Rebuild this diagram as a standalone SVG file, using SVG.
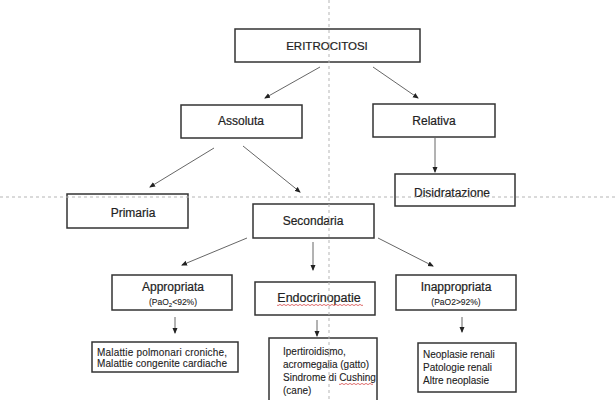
<svg xmlns="http://www.w3.org/2000/svg" width="616" height="400" viewBox="0 0 616 400">
<style>
.box{fill:#fff;stroke:#333;stroke-width:1.5}
.t{font-family:"Liberation Sans",Arial,sans-serif;fill:#222;stroke:#222;stroke-width:0.2;text-anchor:middle}
.lbl{font-size:12px}
.sub{font-size:8.5px;stroke-width:0.1}
.sm{font-family:"Liberation Sans",Arial,sans-serif;fill:#222;stroke:#222;stroke-width:0.1;font-size:10px}
.c{stroke:#555;stroke-width:0.9;fill:none;marker-end:url(#ah)}
.guide{stroke:#b5b5b5;stroke-width:1;stroke-dasharray:3 3;fill:none}
.sq{stroke:#d03030;stroke-width:0.7;fill:none}
</style>
<defs>
<marker id="ah" viewBox="0 0 6 6" refX="5" refY="3" markerWidth="6" markerHeight="6" markerUnits="userSpaceOnUse" orient="auto">
<path d="M0,0.5 L6,3 L0,5.5 Z" fill="#222"/>
</marker>
</defs>
<rect width="616" height="400" fill="#fff"/>
<g id="connectors">
<line class="c" x1="320" y1="67" x2="265" y2="98"/>
<line class="c" x1="373" y1="67" x2="418" y2="98"/>
<line class="c" x1="435" y1="138" x2="435" y2="172"/>
<line class="c" x1="214" y1="148" x2="150" y2="187"/>
<line class="c" x1="243" y1="146" x2="300" y2="192"/>
<line class="c" x1="247" y1="238" x2="182" y2="265"/>
<line class="c" x1="313" y1="242" x2="313" y2="270"/>
<line class="c" x1="378" y1="238" x2="433" y2="266"/>
<line class="c" x1="175" y1="317" x2="175" y2="333"/>
<line class="c" x1="317" y1="320" x2="317" y2="336"/>
<line class="c" x1="462" y1="317" x2="462" y2="332"/>
</g>
<g id="eritrocitosi">
<rect class="box" x="235" y="29" width="185" height="33"/>
<text class="t" font-size="11.5" x="327" y="50">ERITROCITOSI</text>
</g>
<g id="assoluta">
<rect class="box" x="181" y="105" width="121" height="33"/>
<text class="t lbl" x="241" y="125">Assoluta</text>
</g>
<g id="relativa">
<rect class="box" x="373" y="104" width="122" height="33"/>
<text class="t lbl" x="434" y="125">Relativa</text>
</g>
<g id="disidratazione">
<rect class="box" x="395" y="174" width="120" height="32"/>
<text class="t lbl" x="452" y="197">Disidratazione</text>
</g>
<g id="primaria">
<rect class="box" x="67" y="194" width="121" height="34"/>
<text class="t lbl" x="133" y="217">Primaria</text>
</g>
<g id="secondaria">
<rect class="box" x="253" y="204" width="121" height="34"/>
<text class="t lbl" x="313" y="225">Secondaria</text>
</g>
<g id="appropriata">
<rect class="box" x="112" y="275" width="120" height="35"/>
<text class="t lbl" x="173" y="291">Appropriata</text>
<text class="t sub" x="173" y="305">(PaO<tspan font-size="6" dy="2">2</tspan><tspan dy="-2">&lt;92%)</tspan></text>
</g>
<g id="endocrinopatie">
<rect class="box" x="255" y="282" width="120" height="33"/>
<text class="t" font-size="12.5" x="319" y="302">Endocrinopatie</text>
<path class="sq" d="M277,305 q1,1.2 2,0 t2,0 t2,0 t2,0 t2,0 t2,0 t2,0 t2,0 t2,0 t2,0 t2,0 t2,0 t2,0 t2,0 t2,0 t2,0 t2,0 t2,0 t2,0 t2,0 t2,0 t2,0 t2,0 t2,0 t2,0 t2,0 t2,0 t2,0 t2,0 t2,0 t2,0 t2,0 t2,0 t2,0 t2,0 t2,0 t2,0 t2,0 t2,0 t2,0 t2,0 t2,0 t2,0"/>
</g>
<g id="inappropriata">
<rect class="box" x="396" y="275" width="120" height="35"/>
<text class="t lbl" x="456" y="291">Inappropriata</text>
<text class="t sub" x="456" y="305">(PaO2&gt;92%)</text>
</g>
<g id="malattie">
<rect class="box" x="92" y="342" width="146" height="30"/>
<text class="sm" x="97" y="356" textLength="130">Malattie polmonari croniche,</text>
<text class="sm" x="97" y="367" textLength="130">Malattie congenite cardiache</text>
</g>
<g id="ipertiroidismo">
<rect class="box" x="269" y="338" width="108" height="66"/>
<text class="sm" font-size="9.6" x="283" y="355">Ipertiroidismo,</text>
<text class="sm" font-size="9.6" x="283" y="368">acromegalia (gatto)</text>
<text class="sm" font-size="9.6" x="283" y="381">Sindrome di Cushing</text>
<text class="sm" font-size="9.6" x="283" y="394">(cane)</text>
<path class="sq" d="M339,384 q1,1.2 2,0 t2,0 t2,0 t2,0 t2,0 t2,0 t2,0 t2,0 t2,0 t2,0 t2,0 t2,0 t2,0 t2,0 t2,0 t2,0 t2,0"/>
</g>
<g id="neoplasie">
<rect class="box" x="418" y="343" width="98" height="49"/>
<text class="sm" x="423" y="358">Neoplasie renali</text>
<text class="sm" x="423" y="371">Patologie renali</text>
<text class="sm" x="423" y="384">Altre neoplasie</text>
</g>
<g id="guides">
<line class="guide" x1="329" y1="0" x2="329" y2="400"/>
<line class="guide" x1="0" y1="197" x2="616" y2="197"/>
</g>
</svg>
